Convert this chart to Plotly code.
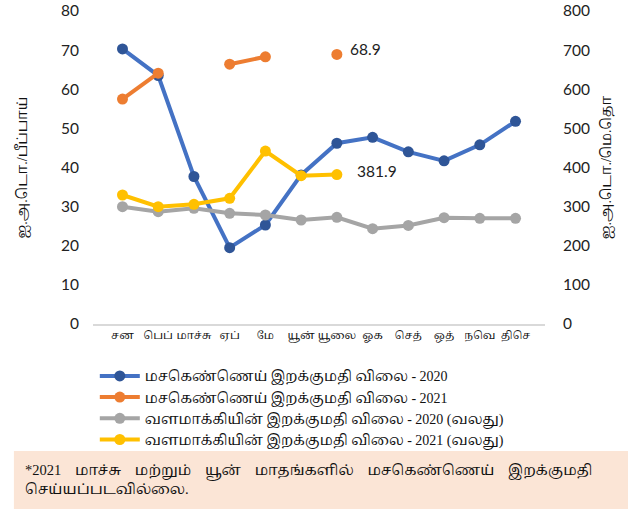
import plotly.graph_objects as go

months = ["சன", "பெப்", "மாச்சு", "ஏப்", "மே", "யூன்", "யூலை", "ஓக", "செத்", "ஒத்", "நவெ", "திசெ"]

crude_2020 = [70.3, 63.5, 37.7, 19.5, 25.3, 38.1, 46.2, 47.7, 44.0, 41.7, 45.8, 51.8]
crude_2021 = [57.5, 64.1, None, 66.4, 68.3, None, 68.9, None, None, None, None, None]
fert_2020 = [299.8, 287.0, 295.6, 283.0, 278.6, 265.8, 272.7, 243.6, 252.0, 271.7, 270.0, 270.0]
fert_2021 = [329.7, 299.8, 305.9, 321.2, 442.0, 379.0, 381.9, None, None, None, None, None]

names = [
    "மசகெண்ணெய் இறக்குமதி விலை - 2020",
    "மசகெண்ணெய் இறக்குமதி விலை - 2021",
    "வளமாக்கியின் இறக்குமதி விலை - 2020 (வலது)",
    "வளமாக்கியின் இறக்குமதி விலை - 2021 (வலது)",
]
left_title = "ஐ.அ.டொ./பீப்பாய்"
right_title = "ஐ.அ.டொ./மெ.தொ"
footnote_words = ["*2021", "மாச்சு", "மற்றும்", "யூன்", "மாதங்களில்", "மசகெண்ணெய்", "இறக்குமதி"]
footnote_line2 = "செய்யப்படவில்லை."

NUM_FONT = "Lato, 'Open Sans', sans-serif"
SERIF_FONT = "'Liberation Serif', 'Noto Serif Tamil', serif"

colors_line = ["#4472C4", "#ED7D31", "#A5A5A5", "#FFC000"]
colors_marker = ["#2F5597", "#ED7D31", "#A5A5A5", "#FFC000"]
series = [crude_2020, crude_2021, fert_2020, fert_2021]
axes = ["y", "y", "y2", "y2"]

fig = go.Figure()
for vals, nm, lc, mc, ax in zip(series, names, colors_line, colors_marker, axes):
    fig.add_trace(go.Scatter(x=months, y=vals, name=nm.replace(" ", "\u00a0"),
                             mode="lines+markers",
                             line=dict(color=lc, width=4),
                             marker=dict(color=mc, size=11), yaxis=ax))

fig.add_annotation(x=months[6], y=crude_2021[6], xref="x", yref="y", text="68.9",
                   showarrow=False, xanchor="left", xshift=11, yshift=5,
                   font=dict(family=NUM_FONT, size=15.5, color="#222"))
fig.add_annotation(x=months[6], y=fert_2021[6], xref="x", yref="y2", text="381.9",
                   showarrow=False, xanchor="left", xshift=18, yshift=4,
                   font=dict(family=NUM_FONT, size=15.5, color="#222"))

fig.add_shape(type="rect", xref="paper", yref="paper",
              x0=-0.175, x1=1.19, y0=-0.406, y1=-0.62,
              fillcolor="#FBE5D6", line=dict(width=0), layer="below")
sep = "\u00a0" * 3 + "\u2009"
footnote = sep.join(footnote_words) + "<br>" + footnote_line2
fig.add_annotation(xref="paper", yref="paper", x=-0.155, y=-0.436, xanchor="left", yanchor="top",
                   text=footnote, showarrow=False, align="left",
                   font=dict(family=SERIF_FONT, size=14.5, color="#111"))

fig.update_layout(
    width=628, height=509,
    margin=dict(l=93, r=83, t=11, b=185, autoexpand=False),
    plot_bgcolor="white", paper_bgcolor="white",
    showlegend=True,
    legend=dict(x=0.004, y=-0.116, xanchor="left", yanchor="top",
                font=dict(family=SERIF_FONT, size=14, color="#111"),
                tracegroupgap=0, itemwidth=40, bgcolor="rgba(0,0,0,0)"),
    xaxis=dict(type="category", categoryarray=months, showgrid=False,
               showline=True, linecolor="#D9D9D9", linewidth=1.5, tickangle=0,
               automargin=False,
               ticks="", tickfont=dict(family=SERIF_FONT, size=11, color="#111")),
    yaxis=dict(range=[0, 80], dtick=10, showgrid=False, zeroline=False,
               ticks="", automargin=False, ticklabelstandoff=13,
               tickfont=dict(family=NUM_FONT, size=15.5, color="#222"),
               title=dict(text=left_title, standoff=30,
                          font=dict(family=SERIF_FONT, size=14, color="#111"))),
    yaxis2=dict(range=[0, 800], dtick=100, overlaying="y", side="right",
                showgrid=False, zeroline=False, ticks="", automargin=False,
                ticklabelstandoff=17,
                tickfont=dict(family=NUM_FONT, size=15.5, color="#222"),
                title=dict(text=right_title, standoff=12,
                           font=dict(family=SERIF_FONT, size=14, color="#111"))),
)

fig.write_html("out.html", config={"displayModeBar": False},
               post_script="document.body.style.margin='0';")
